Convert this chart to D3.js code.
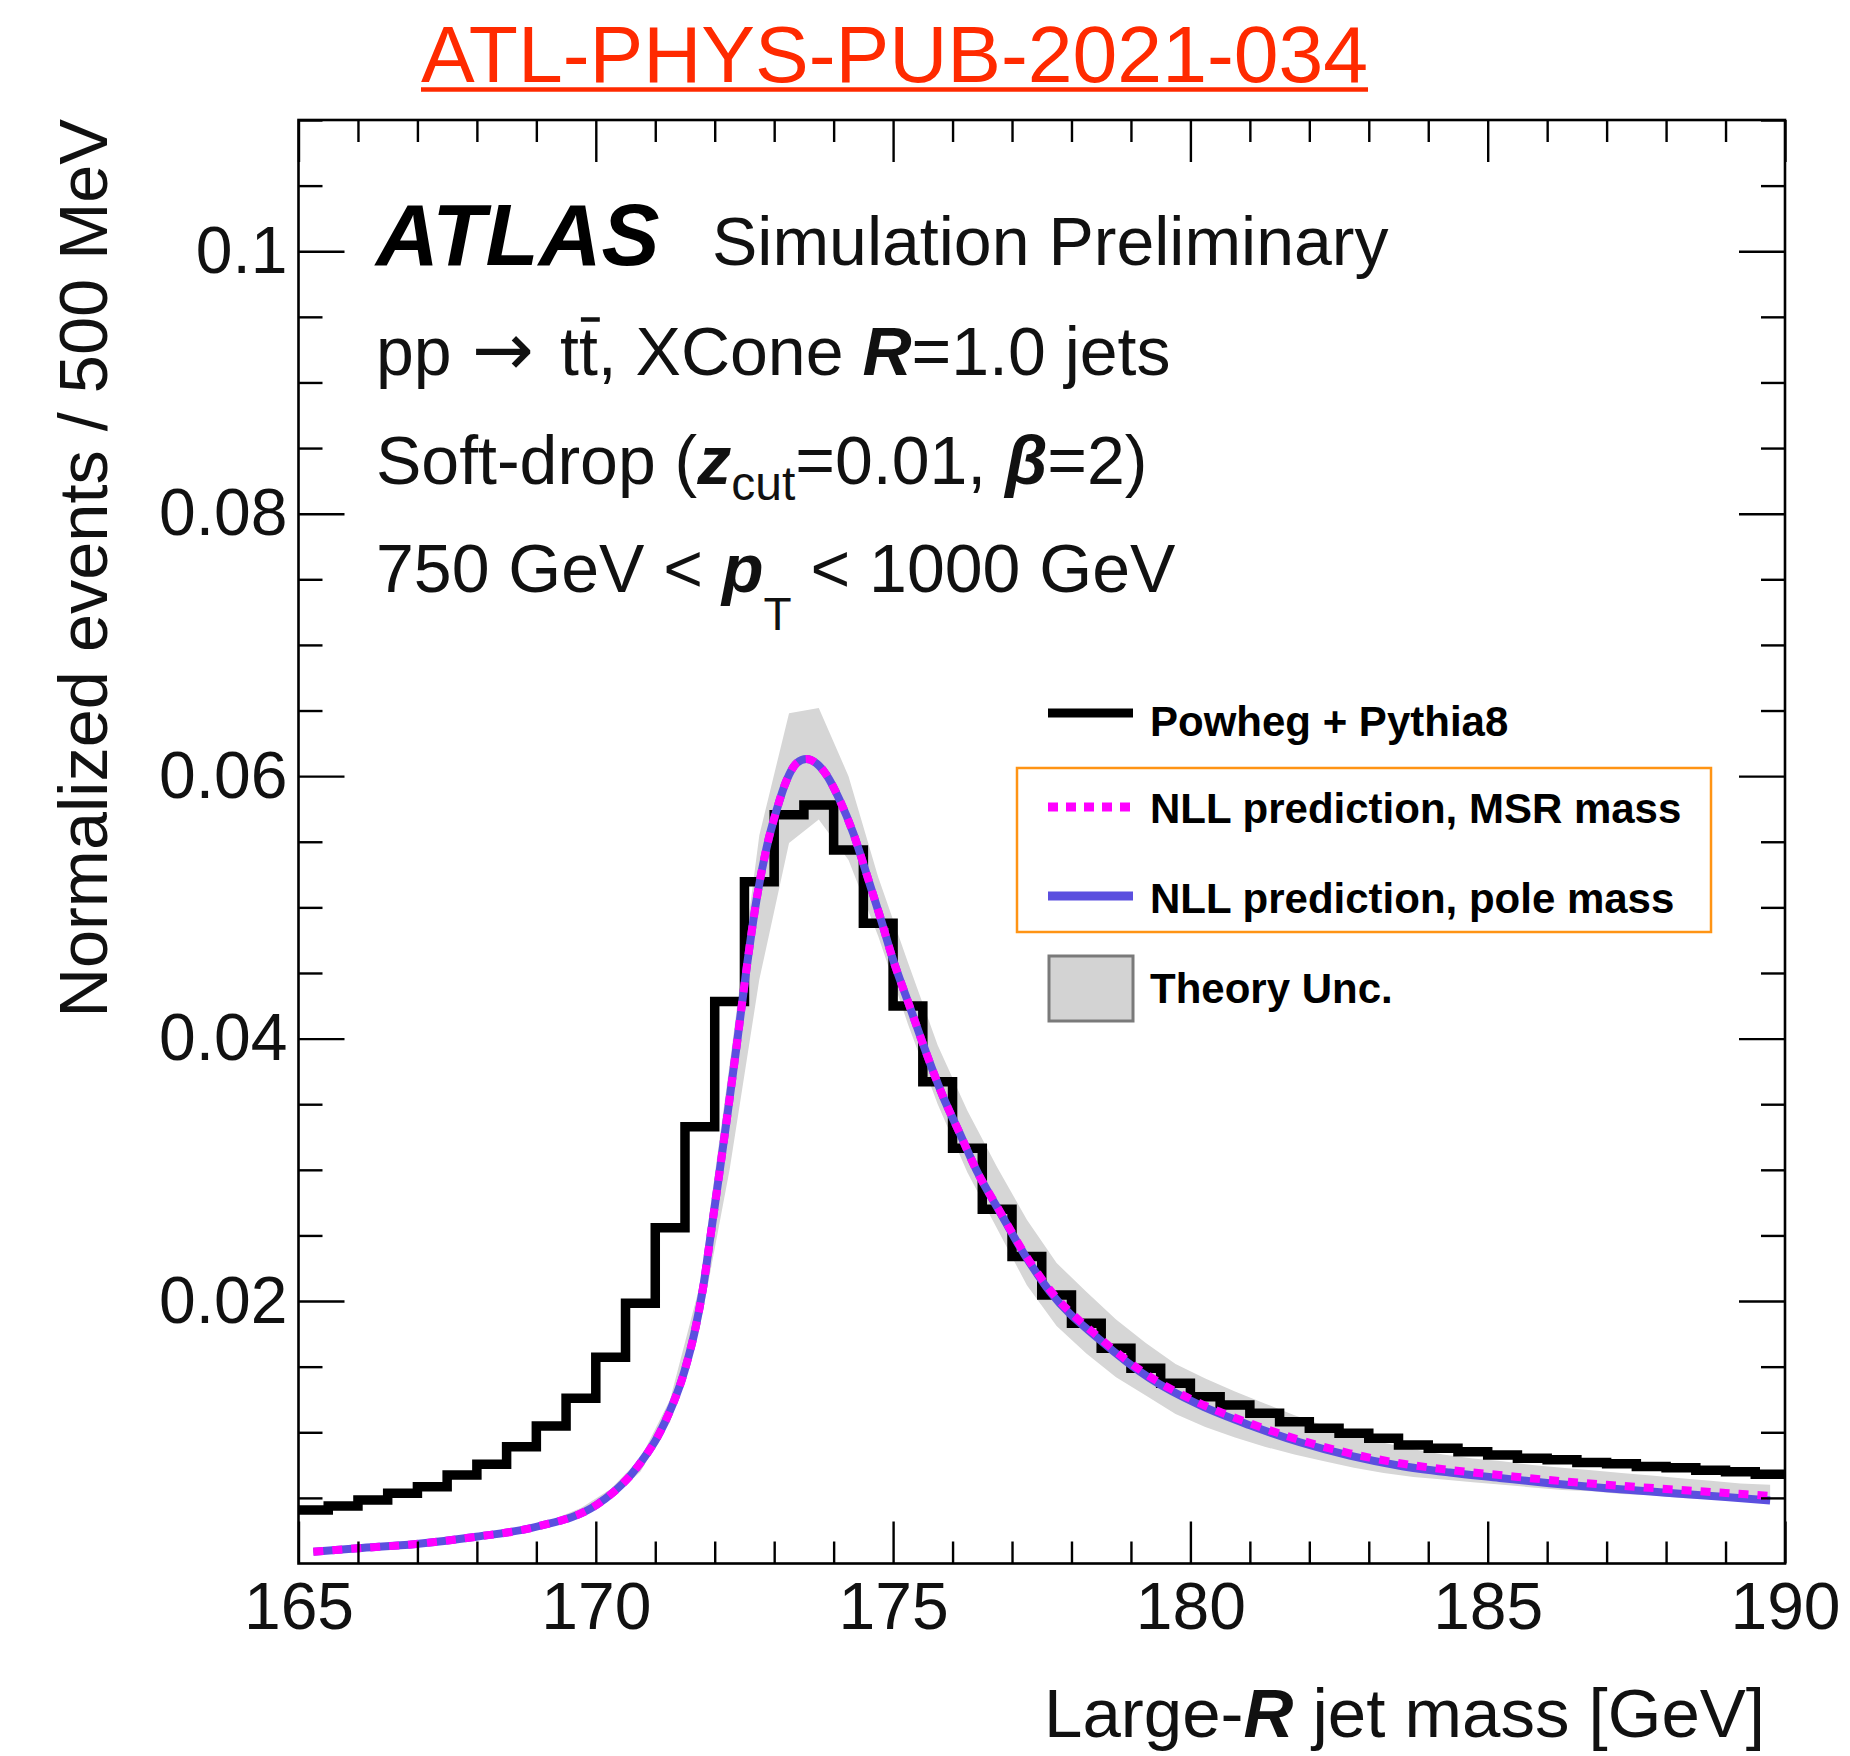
<!DOCTYPE html>
<html>
<head>
<meta charset="utf-8">
<script src="https://cdn.jsdelivr.net/npm/d3@7"></script>
<style>
  html, body { margin: 0; padding: 0; background: #fff; }
  svg { display: block; }
</style>
</head>
<body>
<svg id="chart" width="1850" height="1756"></svg>
<script>
// ---------------- data ----------------
// Powheg + Pythia8 histogram: bin edges (GeV) and normalized content per 500 MeV bin
const binEdges = [165.0, 165.5, 166.0, 166.5, 167.0, 167.5, 168.0, 168.5, 169.0, 169.5,
                  170.0, 170.5, 171.0, 171.5, 172.0, 172.5, 173.0, 173.5, 174.0, 174.5,
                  175.0, 175.5, 176.0, 176.5, 177.0, 177.5, 178.0, 178.5, 179.0, 179.5,
                  180.0, 180.5, 181.0, 181.5, 182.0, 182.5, 183.0, 183.5, 184.0, 184.5,
                  185.0, 185.5, 186.0, 186.5, 187.0, 187.5, 188.0, 188.5, 189.0, 189.5, 190.0];
const powhegPythia8 = [0.00408, 0.00438, 0.00484, 0.00535, 0.00585, 0.00674, 0.00756, 0.00890, 0.01048, 0.01259,
                       0.01571, 0.01983, 0.02559, 0.03329, 0.04282, 0.05196, 0.05705, 0.05781, 0.05438, 0.04879,
                       0.04249, 0.03672, 0.03164, 0.02700, 0.02340, 0.02046, 0.01831, 0.01640, 0.01488, 0.01373,
                       0.01271, 0.01208, 0.01145, 0.01081, 0.01030, 0.00992, 0.00954, 0.00903, 0.00878, 0.00852,
                       0.00827, 0.00802, 0.00790, 0.00770, 0.00760, 0.00740, 0.00730, 0.00710, 0.00700, 0.00680];

// NLL predictions (MSR mass and pole mass) sampled along the jet mass
const curveMass = [165.25, 166.0, 166.98, 167.99, 169.0, 170.01, 170.30, 170.60, 170.85, 171.02,
                   171.16, 171.30, 171.44, 171.55, 171.66, 171.80, 171.94, 172.08, 172.22, 172.37,
                   172.54, 172.70, 172.87, 173.04, 173.21, 173.38, 173.54, 173.71, 173.88, 174.10,
                   174.33, 174.55, 174.78, 175.0, 175.28, 175.56, 175.84, 176.12, 176.40, 176.80,
                   177.20, 177.64, 178.48, 179.32, 180.16, 181.0, 181.84, 182.68, 183.52, 184.36,
                   185.2, 186.04, 187.0, 188.0, 189.0, 189.75];
const nllMsr = [0.00090, 0.00116, 0.00149, 0.00204, 0.00280, 0.00446, 0.00545, 0.00680, 0.00830, 0.00950,
                0.01075, 0.01220, 0.01390, 0.01560, 0.01760, 0.02090, 0.02530, 0.02980, 0.03440, 0.03950,
                0.04550, 0.05050, 0.05450, 0.05740, 0.05970, 0.06100, 0.06131, 0.06098, 0.06009, 0.05819,
                0.05565, 0.05260, 0.04930, 0.04600, 0.04244, 0.03888, 0.03558, 0.03279, 0.02999, 0.02680,
                0.02370, 0.02084, 0.01716, 0.01424, 0.01221, 0.01069, 0.00941, 0.00840, 0.00764, 0.00713,
                0.00674, 0.00636, 0.00600, 0.00568, 0.00538, 0.00515];
const nllPole = [0.00090, 0.00116, 0.00149, 0.00204, 0.00280, 0.00446, 0.00545, 0.00680, 0.00830, 0.00950,
                 0.01075, 0.01220, 0.01390, 0.01560, 0.01760, 0.02090, 0.02530, 0.02980, 0.03440, 0.03950,
                 0.04550, 0.05050, 0.05450, 0.05740, 0.05970, 0.06100, 0.06131, 0.06098, 0.06009, 0.05819,
                 0.05565, 0.05260, 0.04930, 0.04600, 0.04244, 0.03888, 0.03558, 0.03279, 0.02999, 0.02675,
                 0.02362, 0.02070, 0.01703, 0.01410, 0.01206, 0.01053, 0.00924, 0.00822, 0.00745, 0.00693,
                 0.00652, 0.00612, 0.00574, 0.00540, 0.00507, 0.00480];

// Theory uncertainty envelope, evaluated at bin centres
const bandMass = [165.25, 165.75, 166.25, 166.75, 167.25, 167.75, 168.25, 168.75, 169.25, 169.75,
                  170.25, 170.75, 171.25, 171.75, 172.25, 172.75, 173.25, 173.75, 174.25, 174.75,
                  175.25, 175.75, 176.25, 176.75, 177.25, 177.75, 178.25, 178.75, 179.25, 179.75,
                  180.25, 180.75, 181.25, 181.75, 182.25, 182.75, 183.25, 183.75, 184.25, 184.75,
                  185.25, 185.75, 186.25, 186.75, 187.25, 187.75, 188.25, 188.75, 189.25, 189.75];
const bandLow = [0.00084, 0.00100, 0.00116, 0.00131, 0.00150, 0.00177, 0.00205, 0.00241, 0.00290, 0.00368,
                 0.00492, 0.00700, 0.01080, 0.01800, 0.03000, 0.04450, 0.05490, 0.05670, 0.05360, 0.04780,
                 0.04110, 0.03500, 0.02980, 0.02550, 0.02120, 0.01810, 0.01600, 0.01420, 0.01280, 0.01140,
                 0.01040, 0.00960, 0.00890, 0.00830, 0.00780, 0.00730, 0.00690, 0.00660, 0.00640, 0.00620,
                 0.00600, 0.00580, 0.00560, 0.00550, 0.00530, 0.00520, 0.00500, 0.00490, 0.00480, 0.00460];
const bandHigh = [0.00097, 0.00114, 0.00132, 0.00149, 0.00170, 0.00201, 0.00233, 0.00275, 0.00330, 0.00422,
                  0.00568, 0.00800, 0.01250, 0.02120, 0.03800, 0.05550, 0.06480, 0.06520, 0.06000, 0.05230,
                  0.04580, 0.03950, 0.03450, 0.03020, 0.02620, 0.02290, 0.02070, 0.01860, 0.01680, 0.01520,
                  0.01410, 0.01310, 0.01220, 0.01130, 0.01050, 0.00980, 0.00920, 0.00870, 0.00830, 0.00800,
                  0.00780, 0.00750, 0.00730, 0.00710, 0.00690, 0.00670, 0.00650, 0.00630, 0.00610, 0.00600];

// axis ticks and labels
const xMajorTicks = [165, 170, 175, 180, 185, 190];
const xTickLabels = ["165", "170", "175", "180", "185", "190"];
const yMajorTicks = [0.02, 0.04, 0.06, 0.08, 0.1];
const yTickLabels = ["0.02", "0.04", "0.06", "0.08", "0.1"];

// legend entries
const legendLabels = ["Powheg + Pythia8", "NLL prediction, MSR mass", "NLL prediction, pole mass", "Theory Unc."];

// ---------------- drawing ----------------
const FONT = '"Liberation Sans", Arial, Helvetica, sans-serif';
const W = 1850, H = 1756;
const frame = { left: 298.5, right: 1785, top: 120, bottom: 1563.5 };

const x = d3.scaleLinear().domain([165, 190]).range([frame.left, frame.right]);
const y = d3.scaleLinear().domain([0, 0.11]).range([frame.bottom, frame.top]);

const svg = d3.select("#chart").attr("font-family", FONT);
svg.append("rect").attr("width", W).attr("height", H).attr("fill", "#fff");

svg.append("defs").append("clipPath").attr("id", "plotClip")
  .append("rect")
  .attr("x", frame.left).attr("y", frame.top)
  .attr("width", frame.right - frame.left).attr("height", frame.bottom - frame.top);

const plot = svg.append("g").attr("clip-path", "url(#plotClip)");

// uncertainty band
const band = bandMass.map((m, i) => ({ m, lo: bandLow[i], hi: bandHigh[i] }));
plot.append("path")
  .datum(band)
  .attr("d", d3.area().x(d => x(d.m)).y0(d => y(d.lo)).y1(d => y(d.hi)))
  .attr("fill", "#d6d6d6");

// histogram outline
const hist = powhegPythia8.map((v, i) => ({ m: binEdges[i], v }));
hist.push({ m: binEdges[binEdges.length - 1], v: powhegPythia8[powhegPythia8.length - 1] });
plot.append("path")
  .datum(hist)
  .attr("d", d3.line().x(d => x(d.m)).y(d => y(d.v)).curve(d3.curveStepAfter))
  .attr("fill", "none")
  .attr("stroke", "#000")
  .attr("stroke-width", 9.5)
  .attr("stroke-linejoin", "miter");

// NLL curves
const curveLine = d3.line().x(d => x(d[0])).y(d => y(d[1])).curve(d3.curveMonotoneX);
plot.append("path")
  .datum(curveMass.map((m, i) => [m, nllPole[i]]))
  .attr("d", curveLine)
  .attr("fill", "none")
  .attr("stroke", "#5b4fdf")
  .attr("stroke-width", 8);
plot.append("path")
  .datum(curveMass.map((m, i) => [m, nllMsr[i]]))
  .attr("d", curveLine)
  .attr("fill", "none")
  .attr("stroke", "#ff00ff")
  .attr("stroke-width", 8)
  .attr("stroke-dasharray", "10,9");

// axes: ticks on all four sides, pointing inward
const xMinorTicks = d3.range(165, 191, 1).filter(v => v % 5 !== 0);
const yMinorTicks = d3.range(1, 23).map(k => k * 0.005).filter(v => Math.abs(v / 0.02 - Math.round(v / 0.02)) > 1e-6);

function styleAxis(g) {
  g.select(".domain").remove();
  g.selectAll("line").attr("stroke", "#000").attr("stroke-width", 2.4);
  g.attr("font-family", FONT).attr("font-size", 66);
  g.selectAll("text").attr("fill", "#111");
}

svg.append("g").attr("transform", `translate(0,${frame.bottom})`)
  .call(d3.axisBottom(x).tickValues(xMajorTicks).tickSize(-42).tickPadding(19)
    .tickFormat((d, i) => xTickLabels[i]))
  .call(styleAxis);
svg.append("g").attr("transform", `translate(0,${frame.bottom})`)
  .call(d3.axisBottom(x).tickValues(xMinorTicks).tickSize(-22).tickFormat(""))
  .call(styleAxis);
svg.append("g").attr("transform", `translate(0,${frame.top})`)
  .call(d3.axisTop(x).tickValues(xMajorTicks).tickSize(-42).tickFormat(""))
  .call(styleAxis);
svg.append("g").attr("transform", `translate(0,${frame.top})`)
  .call(d3.axisTop(x).tickValues(xMinorTicks).tickSize(-22).tickFormat(""))
  .call(styleAxis);

svg.append("g").attr("transform", `translate(${frame.left},0)`)
  .call(d3.axisLeft(y).tickValues(yMajorTicks).tickSize(-46).tickPadding(11)
    .tickFormat((d, i) => yTickLabels[i]))
  .call(styleAxis);
svg.append("g").attr("transform", `translate(${frame.left},0)`)
  .call(d3.axisLeft(y).tickValues(yMinorTicks).tickSize(-24).tickFormat(""))
  .call(styleAxis);
svg.append("g").attr("transform", `translate(${frame.right},0)`)
  .call(d3.axisRight(y).tickValues(yMajorTicks).tickSize(-46).tickFormat(""))
  .call(styleAxis);
svg.append("g").attr("transform", `translate(${frame.right},0)`)
  .call(d3.axisRight(y).tickValues(yMinorTicks).tickSize(-24).tickFormat(""))
  .call(styleAxis);

svg.append("rect")
  .attr("x", frame.left).attr("y", frame.top)
  .attr("width", frame.right - frame.left).attr("height", frame.bottom - frame.top)
  .attr("fill", "none").attr("stroke", "#000").attr("stroke-width", 2.6);

// axis titles
svg.append("text")
  .attr("transform", "translate(107,119) rotate(-90)")
  .attr("text-anchor", "end")
  .attr("font-size", 68.5)
  .attr("fill", "#111")
  .text("Normalized events / 500 MeV");

const xTitle = svg.append("text")
  .attr("x", 1765).attr("y", 1737)
  .attr("text-anchor", "end")
  .attr("font-size", 69)
  .attr("fill", "#111");
xTitle.append("tspan").text("Large-");
xTitle.append("tspan").attr("font-style", "italic").attr("font-weight", "bold").text("R");
xTitle.append("tspan").text(" jet mass [GeV]");

// document reference heading
const RED = "#ff2a00";
const heading = svg.append("text")
  .attr("x", 421).attr("y", 82)
  .attr("font-size", 80.5)
  .attr("fill", RED)
  .text("ATL-PHYS-PUB-2021-034");
const headLen = heading.node().getComputedTextLength();
svg.append("line")
  .attr("x1", 421).attr("x2", 421 + headLen)
  .attr("y1", 89.5).attr("y2", 89.5)
  .attr("stroke", RED).attr("stroke-width", 4.5);

// ATLAS label and selection text
svg.append("text")
  .attr("x", 376).attr("y", 265)
  .attr("font-size", 87).attr("font-weight", "bold").attr("font-style", "italic")
  .attr("fill", "#000")
  .text("ATLAS");
svg.append("text")
  .attr("x", 712).attr("y", 265)
  .attr("font-size", 68).attr("fill", "#111")
  .text("Simulation Preliminary");

const line2 = svg.append("text").attr("x", 376).attr("y", 375).attr("font-size", 68).attr("fill", "#111");
line2.append("tspan").text("pp ");
line2.append("tspan").attr("x", 472).attr("font-family", '"DejaVu Sans", sans-serif').attr("font-size", 74).text("\u2192");
line2.append("tspan").attr("x", 560).text("tt");
line2.append("tspan").text(", XCone ");
line2.append("tspan").attr("font-style", "italic").attr("font-weight", "bold").text("R");
line2.append("tspan").text("=1.0 jets");
// bar over the anti-top
const tbar = line2.node().getExtentOfChar(5);
svg.append("line")
  .attr("x1", tbar.x + 2).attr("x2", tbar.x + tbar.width + 2)
  .attr("y1", 319.5).attr("y2", 319.5)
  .attr("stroke", "#111").attr("stroke-width", 4.5);

const line3 = svg.append("text").attr("x", 376).attr("y", 484).attr("font-size", 68).attr("fill", "#111");
line3.append("tspan").text("Soft-drop (");
line3.append("tspan").attr("font-style", "italic").attr("font-weight", "bold").text("z");
line3.append("tspan").attr("font-size", 48).attr("dy", 16).text("cut");
line3.append("tspan").attr("dy", -16).text("=0.01, ");
line3.append("tspan").attr("font-style", "italic").attr("font-weight", "bold").text("\u03B2");
line3.append("tspan").text("=2)");

const line4 = svg.append("text").attr("x", 376).attr("y", 592).attr("font-size", 68).attr("fill", "#111");
line4.append("tspan").text("750 GeV < ");
line4.append("tspan").attr("font-style", "italic").attr("font-weight", "bold").text("p");
line4.append("tspan").attr("font-size", 46).attr("dy", 38).text("T");
line4.append("tspan").attr("dy", -38).text(" < 1000 GeV");

// legend
const leg = svg.append("g").attr("font-size", 42).attr("font-weight", "bold").attr("fill", "#000");
const legX0 = 1048, legX1 = 1133, legTextX = 1150;

leg.append("rect")
  .attr("x", 1017).attr("y", 768).attr("width", 694).attr("height", 164)
  .attr("fill", "none").attr("stroke", "#ff9414").attr("stroke-width", 2.5);

leg.append("line").attr("x1", legX0).attr("x2", legX1).attr("y1", 713).attr("y2", 713)
  .attr("stroke", "#000").attr("stroke-width", 9);
leg.append("line").attr("x1", legX0).attr("x2", legX1).attr("y1", 807).attr("y2", 807)
  .attr("stroke", "#ff00ff").attr("stroke-width", 9).attr("stroke-dasharray", "10,8");
leg.append("line").attr("x1", legX0).attr("x2", legX1).attr("y1", 896).attr("y2", 896)
  .attr("stroke", "#5b4fdf").attr("stroke-width", 9);
leg.append("rect").attr("x", 1049).attr("y", 956).attr("width", 84).attr("height", 65)
  .attr("fill", "#d3d3d3").attr("stroke", "#7a7a7a").attr("stroke-width", 3);

const legBaselines = [736, 823, 913, 1003];
legendLabels.forEach((t, i) => {
  leg.append("text").attr("x", legTextX).attr("y", legBaselines[i]).text(t);
});
</script>
</body>
</html>
